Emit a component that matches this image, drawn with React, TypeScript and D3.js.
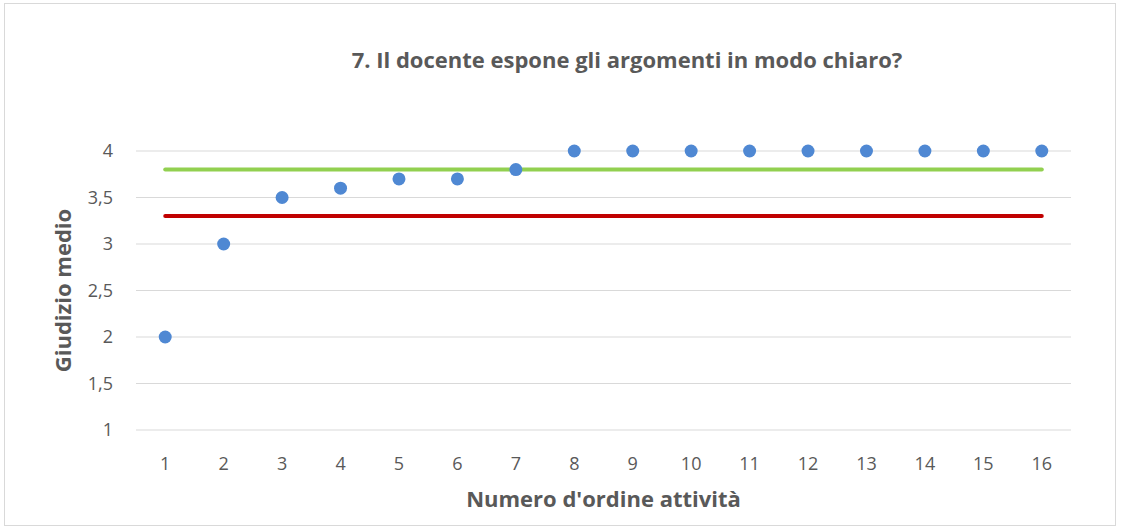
import React, { useEffect, useRef } from 'react';
import * as d3 from 'd3';

const categories = ['1', '2', '3', '4', '5', '6', '7', '8', '9', '10', '11', '12', '13', '14', '15', '16'];
const giudizioMedio = [2, 3, 3.5, 3.6, 3.7, 3.7, 3.8, 4, 4, 4, 4, 4, 4, 4, 4, 4];
const yTicks = [1, 1.5, 2, 2.5, 3, 3.5, 4];
const mediaAlta = 3.8; // green reference line
const mediaBassa = 3.3; // red reference line

const title = '7. Il docente espone gli argomenti in modo chiaro?';
const yTitle = 'Giudizio medio';
const xTitle = "Numero d'ordine attività";

export default function App() {
  const svgRef = useRef<SVGSVGElement>(null);

  useEffect(() => {
    if (!svgRef.current) return;
    const svg = d3.select(svgRef.current);
    svg.selectAll('*').remove();

    const width = 1124;
    const height = 527;
    const font = "'Open Sans', 'Noto Sans', sans-serif";
    const plot = { left: 136, right: 1071, top: 151, bottom: 430 };

    // chart frame
    svg.append('rect')
      .attr('x', 4.5).attr('y', 3.5)
      .attr('width', 1111).attr('height', 522)
      .attr('fill', 'white')
      .attr('stroke', '#D9D9D9');

    const x = d3.scaleBand<string>()
      .domain(categories)
      .range([plot.left, plot.right]);
    const y = d3.scaleLinear().domain([1, 4]).range([plot.bottom, plot.top]);

    // gridlines
    svg.append('g')
      .selectAll('line')
      .data(yTicks)
      .join('line')
      .attr('x1', plot.left).attr('x2', plot.right)
      .attr('y1', d => y(d)).attr('y2', d => y(d))
      .attr('stroke', '#D9D9D9')
      .attr('stroke-width', 1.2);

    // y tick labels
    svg.append('g')
      .selectAll('text')
      .data(yTicks)
      .join('text')
      .attr('x', 113)
      .attr('y', d => y(d))
      .attr('dy', '0.35em')
      .attr('text-anchor', 'end')
      .attr('fill', '#595959')
      .style('font-family', font)
      .style('font-size', '18px')
      .text(d => String(d).replace('.', ','));

    // x tick labels
    svg.append('g')
      .selectAll('text')
      .data(categories)
      .join('text')
      .attr('x', d => (x(d) as number) + x.bandwidth() / 2)
      .attr('y', 470)
      .attr('text-anchor', 'middle')
      .attr('fill', '#595959')
      .style('font-family', font)
      .style('font-size', '18px')
      .text(d => d);

    const xFirst = (x(categories[0]) as number) + x.bandwidth() / 2;
    const xLast = (x(categories[categories.length - 1]) as number) + x.bandwidth() / 2;

    // reference lines
    [{ v: mediaAlta, c: '#92D050' }, { v: mediaBassa, c: '#C00000' }].forEach(r => {
      svg.append('line')
        .attr('x1', xFirst).attr('x2', xLast)
        .attr('y1', y(r.v)).attr('y2', y(r.v))
        .attr('stroke', r.c)
        .attr('stroke-width', 4)
        .attr('stroke-linecap', 'round');
    });

    // points
    svg.append('g')
      .selectAll('circle')
      .data(giudizioMedio)
      .join('circle')
      .attr('cx', (d, i) => (x(categories[i]) as number) + x.bandwidth() / 2)
      .attr('cy', d => y(d))
      .attr('r', 6.5)
      .attr('fill', '#4F88D3');

    // title
    svg.append('text')
      .attr('x', 627)
      .attr('y', 68)
      .attr('text-anchor', 'middle')
      .attr('fill', '#595959')
      .style('font-family', font)
      .style('font-size', '22px')
      .style('font-weight', 'bold')
      .text(title);

    // axis titles
    svg.append('text')
      .attr('transform', `translate(71,${(plot.top + plot.bottom) / 2}) rotate(-90)`)
      .attr('text-anchor', 'middle')
      .attr('fill', '#595959')
      .style('font-family', font)
      .style('font-size', '22px')
      .style('font-weight', 'bold')
      .text(yTitle);

    svg.append('text')
      .attr('x', (plot.left + plot.right) / 2)
      .attr('y', 507)
      .attr('text-anchor', 'middle')
      .attr('fill', '#595959')
      .style('font-family', font)
      .style('font-size', '22px')
      .style('font-weight', 'bold')
      .text(xTitle);

    svg.attr('width', width).attr('height', height);
  }, []);

  return (
    <svg
      ref={svgRef}
      width={1124}
      height={527}
      style={{ position: 'absolute', left: 0, top: 0, background: 'white' }}
    />
  );
}
